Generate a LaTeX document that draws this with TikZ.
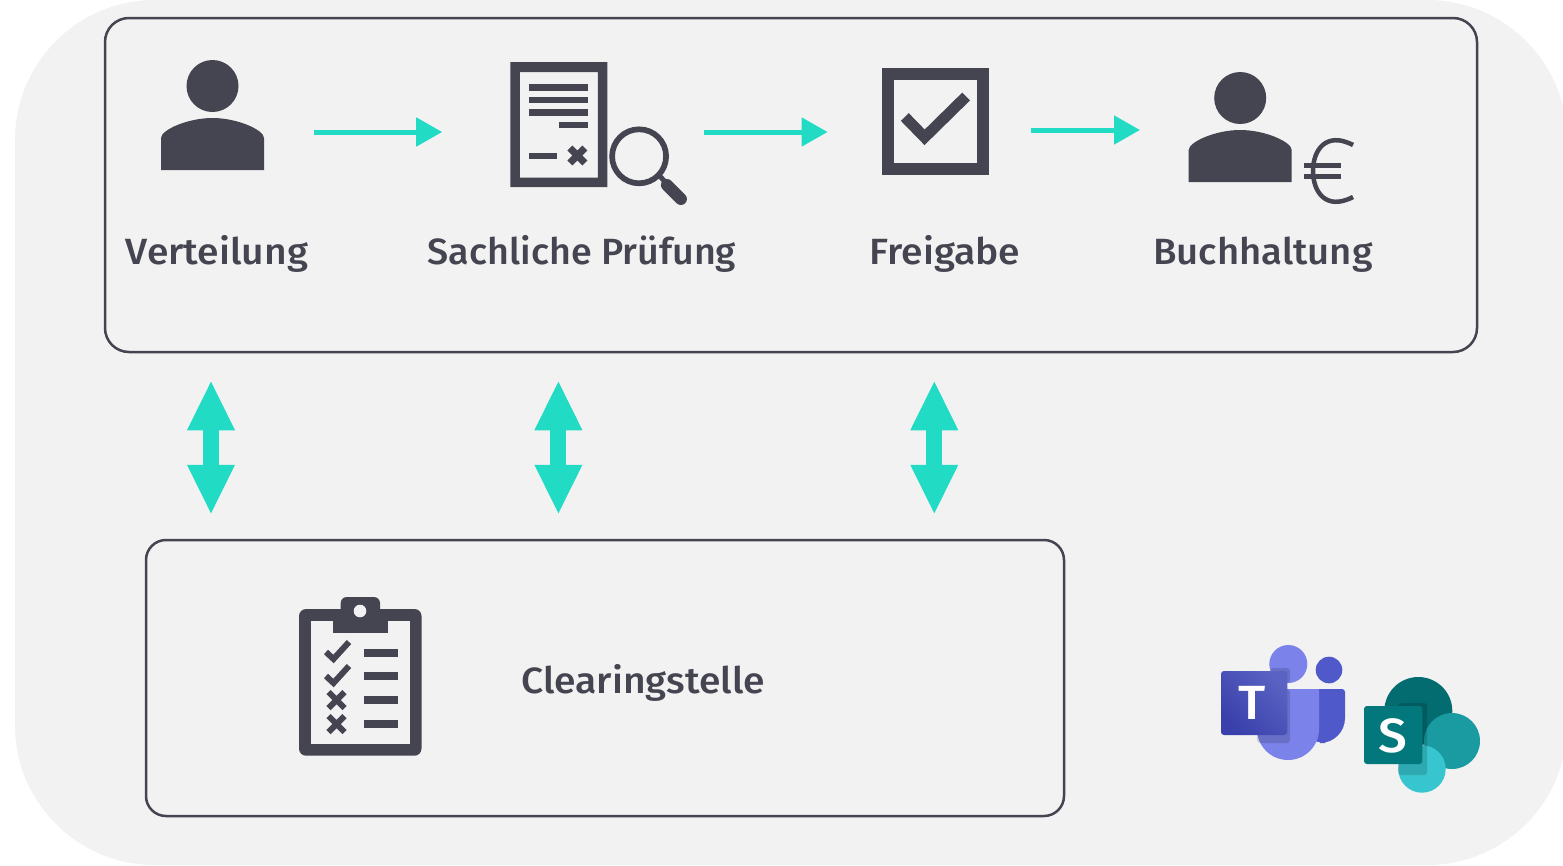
\documentclass[tikz,border=0pt]{standalone}
\usepackage{fontspec}
\setmainfont{Fira Sans}[UprightFont=* Medium,FakeStretch=1.07]
\usepackage{tikz}
\usetikzlibrary{arrows.meta,positioning}
\definecolor{iconGrey}{HTML}{444550}
\definecolor{flowTeal}{HTML}{22DBC4}
\definecolor{bgGrey}{HTML}{F2F2F2}
\definecolor{teamsLight}{HTML}{7B83EB}
\definecolor{teamsDark}{HTML}{5059C9}
\definecolor{teamsTop}{HTML}{5A62C3}
\definecolor{teamsLow}{HTML}{3940AB}
\definecolor{spDark}{HTML}{036C70}
\definecolor{spMid}{HTML}{1A9BA1}
\definecolor{spLight}{HTML}{37C6D0}
\definecolor{spBox}{HTML}{03787C}
\tikzset{
    %Define arrow styles
    flow/.style={
           -{Triangle[length=26pt,width=28pt]},
           line width=5pt,
           draw=flowTeal},
    sync/.style={
           {Triangle[length=50pt,width=44pt]}-{Triangle[length=50pt,width=44pt]},
           line width=16pt,
           draw=flowTeal,
           shorten <=27pt,
           shorten >=24pt},
    %Define style for boxes
    frame/.style={
           rectangle,
           rounded corners=24pt,
           draw=iconGrey,
           line width=2.5pt,
           inner sep=0pt},
    icon/.style={
           rectangle,
           inner sep=0pt,
           minimum height=10pt},
    stage/.style={
           anchor=base,
           inner sep=0pt,
           text=iconGrey,
           font=\fontsize{36.5}{40}\selectfont},
    logo/.style={
           inner sep=0pt,
           text=white,
           font=\fontsize{48}{50}\selectfont},
    %Define the icons
    personpic/.pic={
           \fill[iconGrey] (0,-46) circle (26);
           \fill[iconGrey] (-51.5,38) -- (-51.5,6) .. controls (-51.5,-2) and (-25,-14) .. (0,-14)
                .. controls (25,-14) and (51.5,-2) .. (51.5,6) -- (51.5,38) -- cycle;
    },
    docpic/.pic={
           \fill[iconGrey,even odd rule] (-48.5,-70) rectangle (48.5,55) (-39,-60) rectangle (39,45.7);
           \foreach \y in {-47.7,-35,-22.7}
                \fill[iconGrey] (-29.5,\y) rectangle (29.5,\y+6.4);
           \fill[iconGrey] (0,-10.3) rectangle (29.5,-4);
           \fill[iconGrey] (-29.5,21) rectangle (-1.5,27.4);
           \draw[iconGrey,line width=7pt] (11,16) -- (26,31) (11,31) -- (26,16);
           \draw[iconGrey,line width=5.7pt] (80.2,24.3) circle (27);
           \draw[iconGrey,line width=5pt] (100,43) -- (108,52);
           \draw[iconGrey,line width=12pt,line cap=round] (108,53) -- (122,67);
    },
    checkpic/.pic={
           \draw[iconGrey,line width=11.7pt] (-48.2,-58) rectangle (46.8,37);
           \draw[iconGrey,line width=11pt] (-31.5,-15) -- (-11.7,5.3) -- (29.8,-35.5);
    },
    listpic/.pic={
           \fill[iconGrey,rounded corners=7pt] (-61.5,-73) rectangle (61,73.7);
           \fill[bgGrey] (-49.5,-61) rectangle (49.5,61.7);
           \fill[iconGrey,rounded corners=6pt] (-19.8,-85) rectangle (19.5,-55);
           \fill[iconGrey] (-27.8,-61) rectangle (27.8,-49.3);
           \fill[bgGrey] (-.5,-71) circle (6.3);
           \foreach \y in {-30,-6}
                \draw[iconGrey,line width=6pt] (-34.5,\y) -- (-27,\y+7) -- (-11.5,\y-10);
           \foreach \y in {18,42}
                \draw[iconGrey,line width=6pt] (-32,\y-8) -- (-16,\y+8) (-32,\y+8) -- (-16,\y-8);
           \foreach \y in {-29,-6,18,42}
                \fill[iconGrey] (3.5,\y-4) rectangle (37.5,\y+4);
    },
}
\begin{document}
\begin{tikzpicture}[x=1pt,y=-1pt]
\useasboundingbox (0,0) rectangle (1563,865);
 %background
\fill[white] (0,0) rectangle (1563,865);
\fill[bgGrey,rounded corners=140pt] (15,0) rectangle (1567,865);
 %boxes
\node[frame,minimum width=1372pt,minimum height=334pt](prozess) at (791,185){};
\node[frame,rounded corners=20pt,minimum width=918pt,minimum height=276pt](clearing) at (605,678){};
 %icons
\node[icon,minimum width=103pt](verteilung) at (212.5,132){};
\node[icon,minimum width=97pt,right=246pt of verteilung](pruefung){};
\node[icon,minimum width=107pt,right=275pt of pruefung](freigabe){};
\node[icon,minimum width=103pt,right=199pt of freigabe,yshift=2pt](buchhaltung){};
\pic at (verteilung) {personpic};
\pic at (pruefung) {docpic};
\pic at (freigabe) {checkpic};
\pic at ([yshift=-14pt,xshift=-.5pt]buchhaltung) {personpic};
\draw[iconGrey,line width=4.5pt] (1353,145) .. controls (1326,131) and (1313,150) .. (1313,171)
     .. controls (1313,192) and (1326,211) .. (1353,197);
\draw[iconGrey,line width=5pt] (1304,165) -- (1341,165) (1304,176) -- (1341,176);
\node[icon,minimum width=123pt,minimum height=147pt](liste) at (360.5,682){};
\pic at (liste) {listpic};
 %labels
\node[stage] (lblVerteilung) at (217,264) {Verteilung};
\node[stage,xscale=.965] (lblPruefung) at (582,264) {Sachliche Prüfung};
\node[stage] (lblFreigabe) at (945,264) {Freigabe};
\node[stage,xscale=.98] (lblBuchhaltung) at (1263,264) {Buchhaltung};
\node[stage] (lblClearing) at (643,693) {Clearingstelle};
 %arrows
\draw[flow,shorten <=50pt,shorten >=68pt] (verteilung) -- (pruefung);
\draw[flow,shorten <=96pt,shorten >=55pt] (pruefung) -- (freigabe);
\draw[flow,shorten <=41pt,shorten >=49pt] (freigabe.east |- buchhaltung.west) -- (buchhaltung);
\draw[sync] ([xshift=-1.5pt]verteilung.center |- prozess.south) -- ([xshift=-1.5pt]verteilung.center |- clearing.north);
\draw[sync] ([xshift=-.5pt]pruefung.center |- prozess.south) -- ([xshift=-.5pt]pruefung.center |- clearing.north);
\draw[sync] ([xshift=-2pt]freigabe.center |- prozess.south) -- ([xshift=-2pt]freigabe.center |- clearing.north);
 %teams logo
\fill[teamsDark] (1329,670) circle (13.3);
\fill[teamsLight] (1288.3,664) circle (19);
\fill[teamsDark] (1310,689) [rounded corners=3pt] -- (1345,689) [rounded corners=25pt] -- (1345,743) -- (1300,743) [sharp corners] -- cycle;
\fill[teamsLight] (1257,689) -- (1319,689) [rounded corners=31pt] -- (1319,760) -- (1257,760) [sharp corners] -- cycle;
\fill[black,opacity=.15,rounded corners=3pt] (1257,689) rectangle (1290,743);
\fill[black,opacity=.15,rounded corners=3pt] (1270,668) rectangle (1290,683);
\shade[rounded corners=3pt,shading=axis,left color=teamsTop,right color=teamsLow,shading angle=-45] (1221,671) rectangle (1287.3,735);
\node[logo] (teamsT) at (1252.5,703) {T};
 %sharepoint logo
\fill[spDark] (1418.3,711) circle (34);
\fill[spMid] (1452,741) circle (28);
\fill[spLight] (1422,769) circle (23.7);
\fill[black,opacity=.15,rounded corners=3pt] (1398,703) rectangle (1427,775);
\fill[spBox,rounded corners=3pt] (1364,706) rectangle (1422.3,764);
\node[logo] (sharepointS) at (1393,736) {S};
\end{tikzpicture}
\end{document}
